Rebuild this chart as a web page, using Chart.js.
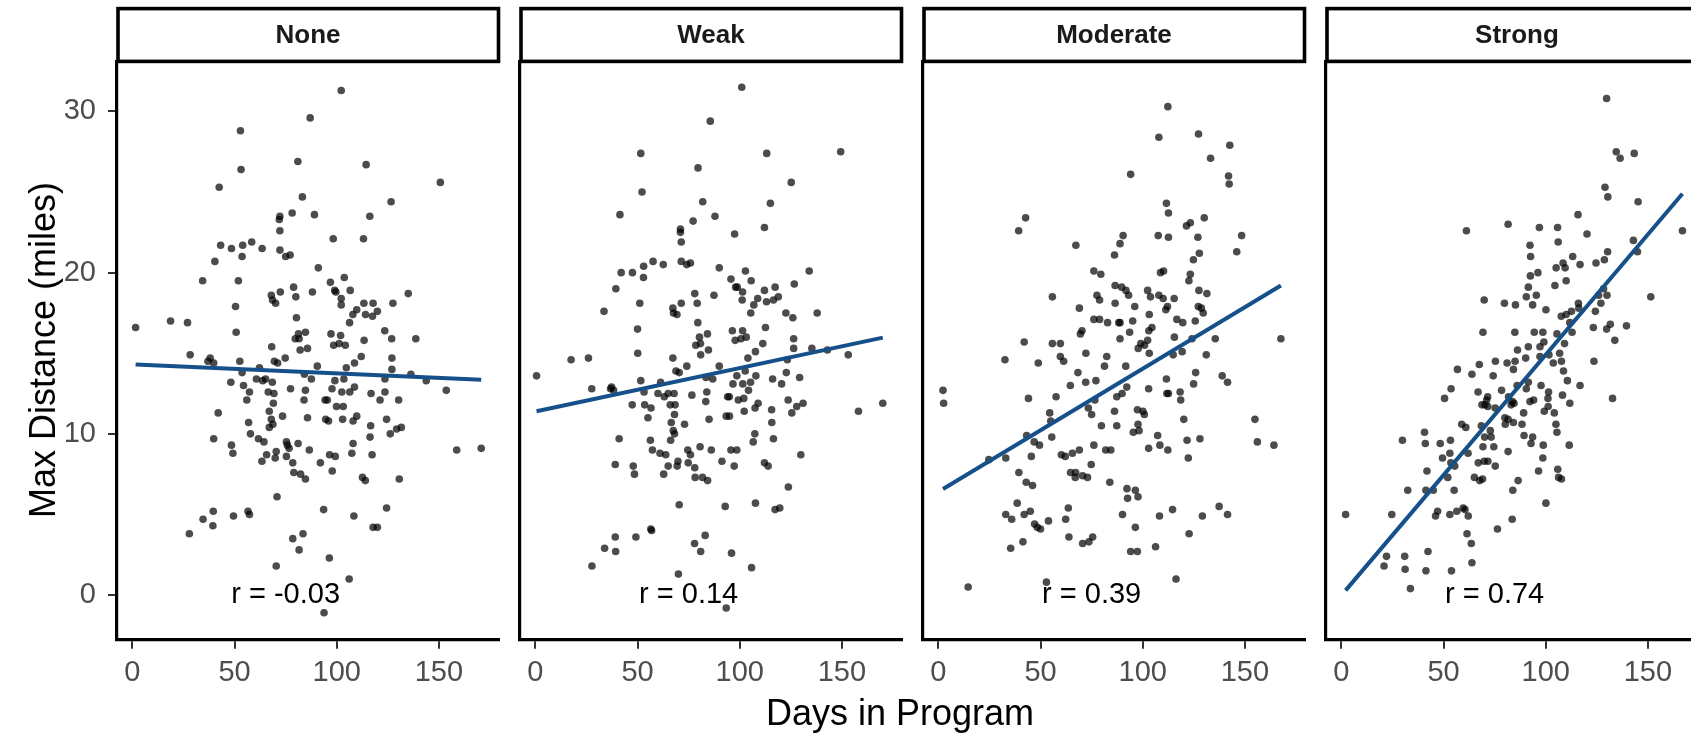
<!DOCTYPE html>
<html>
<head>
<meta charset="utf-8">
<script src="https://cdn.jsdelivr.net/npm/chart.js@4.4.1/dist/chart.umd.min.js"></script>
<style>
  html, body { margin: 0; padding: 0; background: #fff; overflow: hidden; }
  #wrap { position: relative; width: 1720px; height: 735px; font-family: 'Liberation Sans', Arial, sans-serif; }
  .panel { position: absolute; top: 0; }
  #yTitle { position: absolute; left: 43px; top: 350px; font-size: 36px; line-height: 36px; white-space: nowrap;
            transform: translate(-50%, -50%) rotate(-90deg); color: #000; }
  #xTitle { position: absolute; left: 900px; top: 695px; font-size: 36px; line-height: 36px; white-space: nowrap;
            transform: translateX(-50%); color: #000; }
</style>
</head>
<body>
<div id="wrap">
  <canvas id="p0" class="panel"></canvas>
  <canvas id="p1" class="panel"></canvas>
  <canvas id="p2" class="panel"></canvas>
  <canvas id="p3" class="panel"></canvas>
  <div id="yTitle">Max Distance (miles)</div>
  <div id="xTitle">Days in Program</div>
</div>
<script>
// ── Data ─────────────────────────────────────────────────────────────────────
const panelNames = ['None', 'Weak', 'Moderate', 'Strong'];
const rLabels    = ['r = -0.03', 'r = 0.14', 'r = 0.39', 'r = 0.74'];
const rAnchor    = [75, 0];           // data coords of the r label
const xTicks     = [0, 50, 100, 150];
const yTicks     = [0, 10, 20, 30];

// [days, max distance]
const nonePoints = [
  [102.2,31.3],[87,29.6],[52.9,28.8],[81,26.9],[114.4,26.7],[53.2,26.4],[150.7,25.6],[42.5,25.3],[83.2,24.7],[126.6,24.4],
  [78.2,23.7],[89.1,23.6],[72.2,23.5],[71.9,23.3],[116.2,23.5],[72.2,22.6],[98.3,22.1],[113.1,22.1],[43.2,21.7],[48.5,21.5],
  [54,21.7],[58.4,21.9],[63.5,21.5],[72.2,21.4],[53.7,21],[40.4,20.7],[75,21],[77.2,21.1],[91,20.3],[34.4,19.5],
  [51.9,19.5],[78.9,19.1],[96.9,19.4],[103.7,19.7],[99,18.9],[99.6,18.8],[106.6,18.9],[68,18.6],[72.4,18.8],[68.6,18.3],
  [70.1,18.1],[80,18.5],[88.1,18.8],[102.2,18.4],[102.2,18],[113.3,18.1],[117.8,18.1],[127.5,18.1],[135,18.7],[50.5,17.9],
  [109.8,17.7],[107.9,17.4],[114.1,17.4],[117.5,17.3],[119.9,17.6],[80.3,17.2],[106.3,16.9],[1.6,16.6],[18.7,17],[27,16.9],
  [50.8,16.3],[81.3,16.2],[84.7,16.3],[79.7,15.9],[81.6,15.9],[97.2,16.2],[101.9,16.1],[113.4,15.8],[123.5,16.4],[126.9,15.9],
  [138.7,15.9],[68.2,15.4],[82.1,15.2],[85.7,15.3],[98.5,15.5],[101.2,15.6],[104.2,15.5],
  [28.3,14.9],[38.1,14.7],[37,14.5],[39.8,14.4],[52.6,14.5],[62.2,14.1],[69.5,14.5],[71.1,14.4],[74.8,14.7],[90.5,14.2],
  [104.7,14.1],[108.7,14.4],[112,14.8],[127,14.7],[127,14],[136.3,13.7],[143.8,13.3],[153.6,12.7],[53.7,13.8],[60.7,13.4],
  [63.8,13.3],[65.2,13.4],[68.5,13.2],[84.2,13.7],[87.6,13.4],[99.1,13.3],[103.5,13.4],[123.6,13.4],[48.2,13.2],[54.4,13],
  [57.3,12.6],[56,12.1],[66.5,12.6],[69.3,12.5],[77.4,12.8],[84.7,12.7],[97.7,12.8],[102.5,12.6],[106.4,12.6],[108.7,12.9],
  [116.8,12.5],[123.6,12.6],[84,12.1],[94.3,12.1],[95.4,12.1],[99.9,11.7],[103.2,11.7],[121.2,12.1],[130.3,12.1],[69,11.9],
  [42,11.3],[67,11.4],[73.5,11.1],[68,10.9],[68.8,10.6],[67,10.4],[56.9,10.7],[85.7,11],[94.6,10.9],[96,10.8],
  [102.9,10.9],[108,10.8],[109.8,11.1],[116.6,10.5],[124.4,10.9],[129.3,10.3],[131.6,10.4],[126.2,10],[39.8,9.7],[57.8,10],
  [61.7,9.7],[64.4,9.5],[116.3,9.8],[48.5,9.3],[49.2,8.8],[75.4,9.5],[75.9,9.3],[76.7,9.1],[81.1,9.4],[70.4,8.9],
  [65.7,8.7],[63.4,8.3],[69.9,8.5],[75.4,8.6],[78.5,8.2],[86.6,9],[92,8.2],[96.5,8.7],[99.3,8.6],[107.4,8.8],
  [108,9.4],[117.3,8.7],[158.7,9],[170.7,9.1],[79,7.6],[82.3,7.5],[84.7,7.2],[97.8,7.7],[112.6,7.3],[114,7.1],
  [130.6,7.2],[70.8,6.1],[39.6,5.2],[34.6,4.7],[49.5,4.9],[56.6,5.2],[57.3,5],[39.4,4.3],[27.9,3.8],[93.6,5.3],
  [108.4,4.9],[124.4,5.4],[117.8,4.2],[119.9,4.2],[78.5,3.5],[83.5,3.8],[81.6,2.8],[96.4,2.3],[70.4,1.8],[106.1,1],
  [93.8,-1.1]
];

const weakPoints = [
  [101,31.5],[85.6,29.4],[51.6,27.4],[113.2,27.4],[149.4,27.5],[79.6,26.5],[52.2,25],[125.2,25.6],[41.4,23.6],[81.9,24.4],
  [115,24.3],[77.2,23.2],[87.9,23.5],[71,22.7],[71,22.5],[71.4,21.9],[97.5,22.4],[112.1,22.8],[42,20],[47.5,20],
  [53,20.4],[52.9,19.7],[57.6,20.7],[62.6,20.5],[71.4,20.7],[74.1,20.5],[75.9,20.6],[39.4,19],[90,20.3],[102.8,20.1],
  [134,20.1],[95.7,19.6],[98,19.1],[98.8,19.1],[101.4,18.8],[105.6,19.5],[126.7,19.3],[112.1,18.9],[117.3,19.1],[118.9,18.5],
  [116.5,18.3],[113.1,18.2],[101.2,18.3],[106.9,18],[108.8,18.4],[78,18.7],[87.4,18.6],[79.2,18.1],[71.4,18.1],[51.1,18.1],
  [33.6,17.6],[67.3,17.8],[67.6,17.5],[69.3,17.4],[79.5,16.9],[105.4,17.5],[122.6,17.5],[126,17.2],[137.9,17.5],[112.6,16.6],
  [50,16.5],[96.4,16.4],[101.4,16.4],[80.3,16],[84.2,16.2],[78.5,15.5],[80.8,15.6],[97.8,15.8],[100.6,15.9],[103.2,16],
  [126.4,15.9],[126.4,15.3],[111.3,15.6],[135.3,15.3],
  [84.7,15.2],[107.7,15.1],[142.9,15.2],[50.1,15],[80.9,14.9],[153.1,14.9],[104,14.7],[67.3,14.7],[26,14.7],[17.5,14.6],
  [0.6,13.6],[74.1,14.2],[68.8,13.9],[70.4,13.8],[90,14.2],[102.7,13.9],[98.6,13.6],[107.9,13.6],[122.8,13.8],[129.3,13.5],
  [116.1,13.4],[120.5,13.1],[123.3,14.6],[83.5,13.5],[86.8,13.4],[51.6,13.3],[61.3,13.2],[27.6,12.8],[37.3,12.9],[36.8,12.8],
  [38.3,12.7],[53.2,12.6],[60,12.5],[63.1,12.3],[65,12.5],[67.9,12.5],[76.6,12.4],[83.9,12.6],[96.7,13.1],[104.3,12.7],
  [101.5,13.1],[105.3,13.2],[94.1,12.3],[94.9,12.3],[99.3,12.1],[102,12.2],[83.4,12],[47.4,11.8],[53.5,11.8],[56.6,11.6],
  [55.1,11],[66,11.8],[68.4,11.8],[68.1,11.2],[109,11.9],[107.5,11.6],[115.6,11.5],[123.7,12.1],[127.9,11.7],[131,11.9],
  [125.5,11.3],[158.1,11.4],[170,11.9],[85,10.9],[93.4,11.1],[95,11.1],[102.2,11.4],[73,10.6],[66.5,10.7],[67.5,10.2],
  [68.1,10],[66.2,9.6],[115.7,10.7],[41,9.7],[56.3,9.6],[107.4,10],[106.6,9.5],[116.5,9.7],[57.3,9],[61,8.8],
  [63.8,8.7],[74.6,9],[75.9,8.7],[80.6,9.2],[86.1,9],[95.7,9],[98.6,9],[129.9,8.7],[39.1,8.1],[47.9,8],
  [48.5,7.5],[62.8,7.5],[65,8],[69.4,8],[69.8,8.3],[74.8,8.2],[78,7.9],[78.2,7.3],[81.8,7.3],[84.3,7.1],
  [91.3,8.3],[97.3,8],[112.1,8.2],[113.9,8],[123.8,6.7],[70.4,5.6],[92.9,5.5],[107.7,5.7],[117.3,5.3],[119.6,5.4],
  [56.5,4.1],[56.9,4],[39.1,3.6],[49.2,3.6],[33.9,2.9],[39.3,2.7],[27.7,1.8],[77.9,3.2],[83.1,3.7],[80.9,2.7],
  [96,2.6],[105.8,1.7],[70,1.3],[93.4,-0.8]
];

const moderatePoints = [
  [112.3,30.3],[107.9,28.4],[127.3,28.6],[142.6,27.9],[133.2,27.1],[94.1,26.1],[142,26],[142.3,25.5],[111.6,24.3],[112.6,23.7],
  [42.7,23.4],[39.3,22.6],[123.3,23.1],[121.4,22.9],[130.1,23.4],[107.6,22.3],[112.6,22.2],[127,22.2],[148.4,22.3],[90.4,22.3],
  [88.9,21.8],[67.3,21.7],[86.2,21.1],[127.7,21.2],[124.8,20.8],[146,21.3],[76.1,20.1],[79.5,19.9],[108.7,20],[110.2,20.1],
  [123.3,19.9],[122.6,19.5],[86.5,19.2],[89.7,19.1],[91.8,18.9],[93.1,18.6],[102.4,18.9],[103.8,18.5],[107.9,18.6],[110,18.4],
  [115.4,18.4],[127.5,18.9],[131.4,18.7],[77.6,18.6],[78.9,18.3],[55.8,18.5],[86.5,18.1],[96.1,17.9],[112.1,17.9],[111.3,17.7],
  [127.2,17.9],[128.7,17.8],[129.6,17.5],[69,17.8],[76.1,17.1],[78.9,17.1],[82.8,16.9],[88.3,16.9],[88.9,16.9],[95.1,17],
  [103.2,17.4],[116.7,17.1],[119.6,16.9],[125.7,17],[69.5,16.2],[70.3,16.4],[93.6,16.3],[103,16.4],[104.5,16.6],[88.9,15.9],
  [115.5,16],[124.1,15.9],[135.5,15.9],[167.6,15.9],[42,15.7],[55.8,15.6],[59.7,15.6],[102.4,15.8],[99.1,15.6],[100.9,15.5],
  [97.8,15.3],
  [103.2,15],[114.9,14.9],[119.3,15.1],[131.1,14.9],[72.2,15],[59.7,14.8],[61.3,14.5],[48.9,14.4],[32.6,14.6],[82.4,14.8],
  [81.3,14.2],[91.7,14.2],[68.3,13.8],[72.1,13.2],[77.1,13.3],[64.6,13],[92.2,12.9],[102.9,12.8],[111.6,13.4],[125.9,13.8],
  [124.9,13.1],[138.9,13.6],[141.5,13.2],[2.3,12.7],[2.6,11.9],[44.1,12.2],[57.6,12.3],[87.3,12.3],[89.9,12.5],[111.8,12.5],
  [112.6,12.5],[118.3,12.6],[118.6,12.1],[76.6,12.1],[73.4,11.6],[75,11.2],[54.5,11.3],[55,10.8],[86.2,11.4],[97.4,11.5],
  [100.1,11.4],[100.8,11.2],[79.8,10.5],[87.3,10.5],[97.7,10.6],[95.4,10.1],[98.2,10.2],[120.1,10.9],[154.9,10.9],[43.2,9.9],
  [46.9,9.5],[49.5,9.3],[55.5,9.8],[107.3,9.9],[121.7,9.6],[128,9.7],[156.1,9.5],[164.2,9.3],[76.1,9.3],[81.9,9],
  [84.4,9],[69,9],[65.6,8.8],[60.2,8.7],[62.1,8.6],[102.9,9.1],[108.4,9.3],[112.3,9],[122.3,8.5],[24.7,8.4],
  [33,8.5],[45.5,8.6],[74.8,8.1],[39.4,7.6],[43,7],[46.1,6.8],[64.7,7.6],[67.2,7.6],[67,7.3],[70.6,7.4],
  [73,7.3],[83.9,7],[92.3,6.6],[96.4,6.5],[97.7,6.1],[92.6,6],[38.6,5.7],[33,5],[35.9,4.7],[42,5],
  [45,5.2],[47.1,4.4],[48.4,4.2],[50,4.1],[53.9,4.6],[63.6,5.4],[62.3,4.7],[63.9,3.6],[70.6,3.2],[73.7,3.3],
  [75.5,3.6],[90.1,5],[96.4,4.2],[108.2,4.9],[114.6,5.3],[129.2,4.9],[137.4,5.5],[141.5,5],[122.7,3.8],[106.3,3],
  [94.1,2.7],[97.4,2.7],[35.4,2.9],[41.4,3.3],[116.3,1],[14.6,0.5],[52.9,0.8]
];

const strongPoints = [
  [129.8,30.8],[134.5,27.5],[136.4,27.1],[143.3,27.4],[129,25.3],[130.4,24.7],[145.2,24.4],[115.8,23.6],[61.2,22.6],[81.6,23],
  [96.9,22.8],[105.8,22.8],[120.2,22.4],[106.1,21.9],[166.9,22.6],[92.3,21.7],[92.6,21],[142.9,22],[144.9,21.3],[130.3,21.3],
  [128.7,20.8],[113.2,21],[116.8,20.5],[124.6,20.6],[108.5,20.6],[109.5,20.3],[105.1,20.3],[92.5,19.8],[96.2,20],[110,19.5],
  [104.5,19.2],[91.5,19.1],[90.5,18.5],[95.4,18.6],[93.6,18],[128.3,19],[125.9,18.6],[130,18.6],[127,18.1],[151.4,18.5],
  [69.9,18.3],[79.8,18.1],[85.2,18],[100.1,17.7],[116,18.1],[116.2,17.8],[112.6,17.6],[124.3,17.6],[107.6,17.3],[110,17.4],
  [111.8,16.9],[123.3,16.6],[131.6,16.8],[129.8,16.5],[139.5,16.7],[133.8,15.8],[69.3,16.3],[84.9,16.3],[94.4,16.3],[98.6,16.3],
  [105.5,16.2],[112.9,16.3],[99.1,15.7],[109.2,15.6],[91.5,15.4],[97.2,15.4],
  [86.2,15.2],[106.8,15],[97.2,14.8],[101.6,14.9],[90.2,14.7],[75.4,14.5],[81.1,14.4],[85,14.5],[84.2,14],[67.5,14.3],
  [56.8,14],[63.9,13.7],[74.3,13.6],[103.7,14.4],[107.7,14.5],[108.7,13.9],[123.6,14.5],[110.6,13.3],[116.8,13],[91.5,13.2],
  [97.7,13],[78.4,12.7],[86,13],[90.5,12.8],[53.7,12.8],[50.5,12.2],[66.9,12.6],[71.6,12.3],[71.1,12.1],[81.8,12.3],
  [83.7,12],[101.4,12.6],[101.1,12.2],[108.2,12.4],[111.8,11.9],[132.7,12.2],[92.3,12],[94.1,12.1],[68.8,11.8],[70.3,11.8],
  [71.7,11.7],[75.3,11.6],[83.1,11.8],[84.5,11.9],[101.2,11.7],[89.2,11.3],[99.3,11.4],[104.2,11.3],[80,11],[81.6,10.9],
  [80.2,10.6],[84.2,10.7],[88.4,10.6],[105,10.6],[105.5,10.1],[58.9,10.6],[60.9,10.4],[68.5,10.5],[72.9,10.2],[70.1,9.8],
  [73.3,9.8],[40.7,10.1],[29.9,9.6],[41.1,9.4],[48.4,9.4],[53.4,9.6],[69.3,9.2],[74.6,9.2],[89.4,9.9],[93.6,9.8],
  [92.8,9.4],[98.8,9.3],[111.5,9.3],[53.1,8.8],[62,8.8],[81.6,8.9],[49.5,8.5],[53.6,8.2],[55.5,8],[67,8.2],
  [69.9,8.3],[71.7,8.3],[75.3,8],[98.6,8.5],[41.9,7.7],[52.1,7.3],[65.1,7.3],[67.7,7.1],[69.1,7.2],[86.5,7.1],
  [96.5,7.7],[105.9,7.8],[106.3,7.3],[107.7,7.2],[32.5,6.5],[41.4,6.5],[45,6.5],[55.2,6.5],[83.9,6.5],[100.1,5.7],
  [2.1,5],[24.7,5],[47.1,5.2],[46.1,4.9],[53.1,5],[56.5,5.2],[59.6,5.4],[60.5,5.3],[62.1,4.9],[83.6,4.7],
  [76.4,4.1],[61.5,3.8],[63.6,3.2],[63.9,2],[42.4,2.7],[22.1,2.4],[31,2.4],[20.9,1.8],[31.2,1.6],[41.4,1.5],
  [53.9,1.5],[33.8,0.4]
];

// fitted line end points [days, miles]
const noneFit     = [[1.6, 14.3], [170.7, 13.35]];
const weakFit     = [[0.6, 11.4], [170, 15.97]];
const moderateFit = [[2.3, 6.58], [167.6, 19.2]];
const strongFit   = [[2.1, 0.29], [166.9, 24.9]];

const allPoints = [nonePoints, weakPoints, moderatePoints, strongPoints];
const allFits   = [noneFit, weakFit, moderateFit, strongFit];

// ── Layout ──────────────────────────────────────────────────────────────────
const FONT       = "'Liberation Sans', Arial, sans-serif";
const PLOT_LEFT  = [117, 520, 923, 1326];
const PLOT_W     = 382;
const PLOT_TOP   = 61.5;
const X_AXIS_H   = 95.3;
const CANVAS_H   = 735;
const LINE_BLUE  = '#16508a';

Chart.defaults.font.family = FONT;

const stripPlugin = {
  id: 'strip',
  afterDraw(chart, args, opts) {
    const { ctx, chartArea: a } = chart;
    ctx.save();
    ctx.lineWidth   = 3.6;
    ctx.strokeStyle = '#000';
    ctx.strokeRect(a.left + 1, 8.6, a.right - a.left - 1.5, 52.8);
    ctx.fillStyle    = '#1a1a1a';
    ctx.font         = `bold 26px ${FONT}`;
    ctx.textAlign    = 'center';
    ctx.textBaseline = 'middle';
    ctx.fillText(opts.label, (a.left + a.right) / 2, 35.5);
    ctx.restore();
  }
};

const rLabelPlugin = {
  id: 'rLabel',
  afterDatasetsDraw(chart, args, opts) {
    const { ctx, scales: { x, y } } = chart;
    ctx.save();
    ctx.fillStyle    = '#000';
    ctx.font         = `29px ${FONT}`;
    ctx.textAlign    = 'center';
    ctx.textBaseline = 'middle';
    ctx.fillText(opts.text, x.getPixelForValue(rAnchor[0]), y.getPixelForValue(rAnchor[1]));
    ctx.restore();
  }
};

function makePanel(i) {
  const first  = i === 0;
  const yAxisW = first ? PLOT_LEFT[0] : 20;
  const canvas = document.getElementById('p' + i);
  canvas.width  = yAxisW + PLOT_W + 4;
  canvas.height = CANVAS_H;
  canvas.style.left = (PLOT_LEFT[i] - yAxisW) + 'px';

  const pts = allPoints[i].map(p => ({ x: p[0], y: p[1] }));
  const fit = allFits[i].map(p => ({ x: p[0], y: p[1] }));

  return new Chart(canvas.getContext('2d'), {
    type: 'scatter',
    data: {
      datasets: [
        { type: 'line', data: fit, borderColor: LINE_BLUE, borderWidth: 4, pointRadius: 0,
          fill: false, order: 0 },
        { data: pts, backgroundColor: 'rgba(0,0,0,0.7)', borderWidth: 0, pointRadius: 3.8,
          pointHoverRadius: 3.8, order: 1 }
      ]
    },
    options: {
      responsive: false,
      animation: false,
      events: [],
      layout: { padding: { top: PLOT_TOP, left: 0, right: 4, bottom: 0 } },
      plugins: {
        legend: { display: false },
        tooltip: { enabled: false },
        strip: { label: panelNames[i] },
        rLabel: { text: rLabels[i] }
      },
      scales: {
        x: {
          type: 'linear', min: -7.5, max: 179.4,
          afterBuildTicks: s => { s.ticks = xTicks.map(v => ({ value: v })); },
          afterFit: s => { s.height = X_AXIS_H; },
          grid: { display: true, drawOnChartArea: false, drawTicks: true, tickLength: 9, color: '#333', lineWidth: 2 },
          border: { display: true, color: '#000', width: 3.2 },
          ticks: { color: '#4d4d4d', font: { size: 29 }, padding: 7, autoSkip: false, maxRotation: 0, minRotation: 0 }
        },
        y: {
          type: 'linear', min: -2.77, max: 33.1,
          afterBuildTicks: s => { s.ticks = yTicks.map(v => ({ value: v })); },
          afterFit: s => { s.width = yAxisW; },
          grid: { display: first, drawOnChartArea: false, drawTicks: true, tickLength: 9, color: '#333', lineWidth: 2 },
          border: { display: true, color: '#000', width: 3.2 },
          ticks: { display: first, color: '#4d4d4d', font: { size: 29 }, padding: 12 }
        }
      }
    },
    plugins: [stripPlugin, rLabelPlugin]
  });
}

panelNames.forEach((_, i) => makePanel(i));
</script>
</body>
</html>
